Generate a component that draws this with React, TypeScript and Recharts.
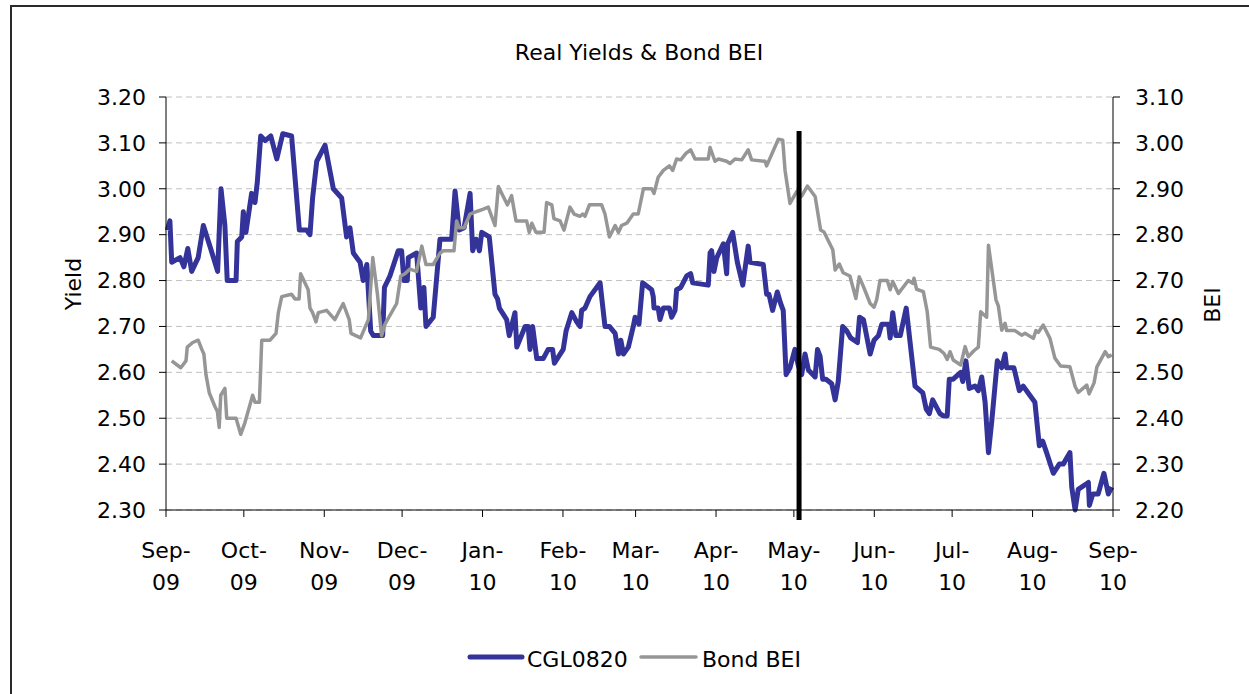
import React from 'react';
import { LineChart, Line, XAxis, YAxis, CartesianGrid, ReferenceLine } from 'recharts';

// x = days since 1 Sep 2009
const monthTicks = [0, 30, 61, 91, 122, 153, 181, 212, 242, 273, 303, 334, 365];
const monthLabels = ['Sep-09', 'Oct-09', 'Nov-09', 'Dec-09', 'Jan-10', 'Feb-10', 'Mar-10', 'Apr-10', 'May-10', 'Jun-10', 'Jul-10', 'Aug-10', 'Sep-10'];
const yieldTicks = [2.3, 2.4, 2.5, 2.6, 2.7, 2.8, 2.9, 3.0, 3.1, 3.2];
const beiTicks = [2.2, 2.3, 2.4, 2.5, 2.6, 2.7, 2.8, 2.9, 3.0, 3.1];
const markerDay = 244; // 3 May 2010
const markerRange = [3.126, 2.278];

const cglSeries: [number, number][] = [
  [0.5,2.91],[1.5,2.93],[2.2,2.84],[5.4,2.85],[6.9,2.83],[8.4,2.87],[9.9,2.82],[12.4,2.85],[14.4,2.92],[17.2,2.87],[19.9,2.82],[21.2,3.00],[22.7,2.92],[23.6,2.80],[27.0,2.80],[27.5,2.885],[29.2,2.895],[29.8,2.95],[30.8,2.905],[33.0,2.99],[34.3,2.97],[35.2,3.015],[36.5,3.115],[38.2,3.105],[40.4,3.115],[42.7,3.065],[45.0,3.12],[48.4,3.115],[51.4,2.91],[54.2,2.91],[55.5,2.90],[56.5,2.98],[58.1,3.06],[61.3,3.095],[64.5,3.00],[67.7,2.98],[69.6,2.895],[70.9,2.915],[72.2,2.86],[74.8,2.84],[76.0,2.80],[77.4,2.835],[78.9,2.69],[79.9,2.68],[83.5,2.68],[84.2,2.785],[86.3,2.81],[89.5,2.865],[90.8,2.865],[91.7,2.80],[93.0,2.80],[93.4,2.85],[96.6,2.86],[98.2,2.74],[99.4,2.785],[100.2,2.70],[103.0,2.72],[105.6,2.89],[110.1,2.89],[111.4,2.995],[113.0,2.91],[114.9,2.915],[117.2,2.99],[118.2,2.865],[119.5,2.89],[120.8,2.865],[121.7,2.905],[124.6,2.895],[126.8,2.77],[127.8,2.76],[128.5,2.74],[131.3,2.715],[132.3,2.68],[134.5,2.73],[135.2,2.655],[138.4,2.70],[139.6,2.70],[140.3,2.65],[141.3,2.70],[142.9,2.63],[145.4,2.63],[147.3,2.65],[149.0,2.65],[149.7,2.62],[153.1,2.65],[154.2,2.69],[156.4,2.73],[158.3,2.71],[159.6,2.70],[160.2,2.735],[161.5,2.74],[163.4,2.765],[167.3,2.795],[169.2,2.70],[170.9,2.70],[173.1,2.685],[174.4,2.64],[175.3,2.67],[176.3,2.64],[178.2,2.655],[180.1,2.70],[180.8,2.72],[182.3,2.705],[183.7,2.795],[187.2,2.78],[187.8,2.765],[188.1,2.74],[189.7,2.74],[190.4,2.715],[191.7,2.74],[194.0,2.74],[194.9,2.72],[196.2,2.735],[196.8,2.78],[198.4,2.785],[200.7,2.81],[202.2,2.815],[203.0,2.795],[209.0,2.79],[209.7,2.86],[210.3,2.865],[211.2,2.82],[212.3,2.85],[214.8,2.88],[216.1,2.815],[216.5,2.88],[218.4,2.905],[220.2,2.84],[222.3,2.79],[224.4,2.875],[225.1,2.84],[230.2,2.835],[231.5,2.77],[232.4,2.77],[233.8,2.735],[235.6,2.775],[236.9,2.75],[237.9,2.735],[239.0,2.595],[240.5,2.61],[242.4,2.65],[243.7,2.615],[245.0,2.595],[246.3,2.64],[247.6,2.605],[250.2,2.59],[251.1,2.65],[252.1,2.635],[253.1,2.585],[254.4,2.585],[256.6,2.575],[257.9,2.54],[259.1,2.58],[260.8,2.70],[262.4,2.69],[263.9,2.675],[266.5,2.665],[267.3,2.72],[268.8,2.715],[271.4,2.64],[272.9,2.67],[274.6,2.68],[275.9,2.705],[278.5,2.705],[279.1,2.675],[280.1,2.73],[281.3,2.68],[283.0,2.68],[285.3,2.74],[286.8,2.665],[288.7,2.57],[291.7,2.555],[293.0,2.52],[294.2,2.51],[295.5,2.54],[298.3,2.51],[299.6,2.505],[301.1,2.505],[301.9,2.585],[303.4,2.585],[306.3,2.60],[307.1,2.58],[308.3,2.625],[309.6,2.565],[311.8,2.57],[313.1,2.56],[314.4,2.59],[315.7,2.535],[317.0,2.425],[318.3,2.495],[320.4,2.625],[322.1,2.61],[323.4,2.64],[324.0,2.61],[326.8,2.61],[328.9,2.56],[330.4,2.57],[332.3,2.555],[334.9,2.535],[336.6,2.44],[337.9,2.45],[339.4,2.425],[342.0,2.38],[344.3,2.40],[345.8,2.40],[348.4,2.425],[349.1,2.35],[350.4,2.30],[351.6,2.345],[355.5,2.36],[355.9,2.31],[357.2,2.335],[359.3,2.335],[361.5,2.38],[363.2,2.335],[364.5,2.35],
];

const beiSeries: [number, number][] = [
  [2.2,2.525],[5.7,2.51],[7.7,2.525],[8.2,2.555],[10.3,2.565],[12.4,2.57],[13.8,2.55],[14.6,2.54],[15.4,2.495],[16.7,2.455],[18.9,2.425],[19.8,2.415],[20.5,2.38],[21.1,2.45],[22.7,2.465],[23.4,2.40],[27.0,2.40],[28.8,2.365],[30.4,2.39],[33.4,2.45],[34.3,2.435],[36.0,2.435],[36.9,2.57],[40.1,2.57],[42.4,2.585],[43.3,2.63],[44.6,2.665],[48.4,2.67],[49.7,2.66],[51.3,2.66],[51.9,2.715],[54.8,2.68],[55.5,2.64],[56.5,2.63],[57.8,2.61],[58.7,2.63],[61.9,2.635],[65.1,2.615],[68.3,2.65],[70.6,2.615],[71.3,2.585],[75.0,2.575],[78.0,2.615],[79.7,2.75],[81.5,2.67],[83.1,2.58],[84.4,2.605],[88.9,2.65],[90.5,2.71],[92.1,2.715],[94.0,2.725],[96.6,2.72],[98.6,2.775],[100.2,2.735],[103.0,2.735],[105.6,2.76],[106.9,2.765],[111.0,2.765],[112.0,2.83],[113.0,2.815],[114.9,2.815],[117.2,2.845],[119.5,2.85],[122.1,2.855],[124.2,2.86],[126.8,2.82],[128.1,2.905],[130.7,2.875],[131.6,2.865],[133.2,2.885],[134.9,2.83],[139.0,2.83],[140.0,2.805],[141.0,2.825],[142.6,2.805],[145.7,2.805],[146.7,2.87],[148.7,2.865],[149.5,2.835],[151.9,2.83],[153.4,2.81],[155.7,2.86],[157.3,2.845],[159.6,2.84],[160.6,2.845],[161.5,2.84],[163.2,2.865],[167.9,2.865],[169.2,2.845],[170.9,2.795],[173.1,2.82],[174.4,2.805],[175.6,2.82],[177.6,2.825],[180.1,2.845],[182.0,2.845],[184.0,2.90],[187.2,2.90],[188.1,2.89],[189.7,2.925],[191.7,2.94],[194.0,2.95],[195.3,2.94],[196.8,2.965],[198.4,2.963],[200.4,2.977],[202.2,2.985],[203.9,2.965],[209.0,2.965],[209.7,2.99],[211.6,2.96],[212.9,2.965],[216.1,2.96],[217.4,2.955],[219.3,2.965],[221.9,2.963],[224.4,2.985],[225.7,2.963],[230.9,2.96],[231.5,2.95],[236.0,3.008],[237.7,3.006],[238.6,2.94],[240.5,2.868],[243.1,2.894],[245.0,2.884],[247.2,2.906],[250.2,2.883],[252.3,2.81],[253.6,2.806],[257.0,2.767],[257.9,2.723],[259.5,2.736],[261.0,2.717],[263.6,2.71],[265.9,2.661],[267.2,2.708],[268.8,2.687],[271.4,2.65],[272.9,2.642],[273.9,2.658],[275.2,2.70],[278.0,2.70],[279.1,2.68],[280.1,2.698],[282.3,2.672],[286.1,2.70],[287.8,2.694],[288.3,2.705],[289.3,2.681],[291.9,2.676],[293.4,2.632],[294.7,2.555],[298.0,2.55],[299.9,2.541],[301.1,2.528],[302.2,2.545],[303.4,2.527],[306.3,2.516],[308.0,2.556],[309.2,2.534],[311.4,2.547],[313.1,2.555],[314.0,2.632],[316.3,2.62],[317.0,2.777],[319.9,2.658],[320.8,2.645],[322.1,2.592],[323.4,2.607],[324.0,2.591],[327.2,2.591],[329.8,2.581],[331.1,2.585],[334.3,2.574],[335.3,2.591],[336.2,2.587],[338.1,2.603],[340.7,2.574],[342.6,2.531],[344.8,2.514],[348.4,2.512],[350.4,2.469],[351.6,2.456],[354.9,2.472],[355.8,2.453],[357.7,2.477],[358.8,2.512],[362.0,2.545],[363.2,2.534],[364.5,2.538],
];

const cglData = cglSeries.map(([day, v]) => ({ day, cgl: v }));
const beiData = beiSeries.map(([day, v]) => ({ day, bei: v }));

const FONT = '"DejaVu Sans", Verdana, sans-serif';
const BLUE = '#333399';
const GRAY = '#969696';

const MonthTick = (props: any) => {
  const { x, y, payload } = props;
  const idx = monthTicks.indexOf(payload.value);
  const label = idx >= 0 ? monthLabels[idx] : '';
  const [a, b] = label.split('-');
  return (
    <text x={x} y={y} textAnchor="middle" fill="#000" fontSize={22} fontFamily={FONT}>
      <tspan x={x} y={y + 39}>{a}-</tspan>
      <tspan x={x} y={y + 71}>{b}</tspan>
    </text>
  );
};

export default function App() {
  return (
    <div style={{ position: 'fixed', left: 0, top: 0, width: 1249, height: 694, overflow: 'hidden', background: '#fff', fontFamily: FONT }}>
      <div style={{ position: 'absolute', left: 10, top: 5, width: 1300, height: 800, border: '2px solid #2a2a2a', boxSizing: 'border-box' }} />
      <div style={{ position: 'absolute', left: 0, top: 0 }}>
        <LineChart width={1249} height={694} margin={{ top: 97, right: 76, bottom: 104, left: 106 }} style={{ fontFamily: FONT }}>
          <CartesianGrid yAxisId="left" vertical={false} stroke="#c0c0c0" strokeDasharray="6 4" />
          <XAxis
            dataKey="day"
            type="number"
            domain={[0, 365]}
            ticks={monthTicks}
            interval={0}
            allowDuplicatedCategory={false}
            height={80}
            stroke="#000"
            tickSize={7}
            tick={<MonthTick />}
          />
          <YAxis
            yAxisId="left"
            orientation="left"
            domain={[2.3, 3.2]}
            ticks={yieldTicks}
            interval={0}
            width={60}
            stroke="#000"
            tickSize={7}
            tickMargin={13}
            tickFormatter={(v: number) => v.toFixed(2)}
            tick={{ fill: '#000', fontSize: 22, fontFamily: FONT }}
          />
          <YAxis
            yAxisId="right"
            orientation="right"
            domain={[2.2, 3.1]}
            ticks={beiTicks}
            interval={0}
            width={60}
            stroke="#000"
            tickSize={7}
            tickMargin={15}
            tickFormatter={(v: number) => v.toFixed(2)}
            tick={{ fill: '#000', fontSize: 22, fontFamily: FONT }}
          />
          <Line
            yAxisId="left"
            data={cglData}
            dataKey="cgl"
            name="CGL0820"
            type="linear"
            stroke={BLUE}
            strokeWidth={5}
            strokeLinejoin="round"
            dot={false}
            activeDot={false}
            isAnimationActive={false}
          />
          <Line
            yAxisId="right"
            data={beiData}
            dataKey="bei"
            name="Bond BEI"
            type="linear"
            stroke={GRAY}
            strokeWidth={3.5}
            strokeLinejoin="round"
            dot={false}
            activeDot={false}
            isAnimationActive={false}
          />
          <ReferenceLine
            yAxisId="left"
            segment={[{ x: markerDay, y: markerRange[0] }, { x: markerDay, y: markerRange[1] }]}
            stroke="#000"
            strokeWidth={5}
            ifOverflow="visible"
          />
        </LineChart>
      </div>
      <svg width={1249} height={694} style={{ position: 'absolute', left: 0, top: 0, pointerEvents: 'none' }} fontFamily={FONT}>
        <text x={639} y={60} textAnchor="middle" fontSize={22} fill="#000">Real Yields &amp; Bond BEI</text>
        <text transform="translate(81,284) rotate(-90)" textAnchor="middle" fontSize={22} fill="#000">Yield</text>
        <text transform="translate(1220,305) rotate(-90)" textAnchor="middle" fontSize={22} fill="#000">BEI</text>
        <line x1={470} y1={657} x2={522} y2={657} stroke={BLUE} strokeWidth={5} strokeLinecap="round" />
        <text x={527} y={667} fontSize={22} fill="#000">CGL0820</text>
        <line x1={641} y1={657} x2={696} y2={657} stroke={GRAY} strokeWidth={3.5} strokeLinecap="round" />
        <text x={702} y={667} fontSize={22} fill="#000">Bond BEI</text>
      </svg>
    </div>
  );
}
